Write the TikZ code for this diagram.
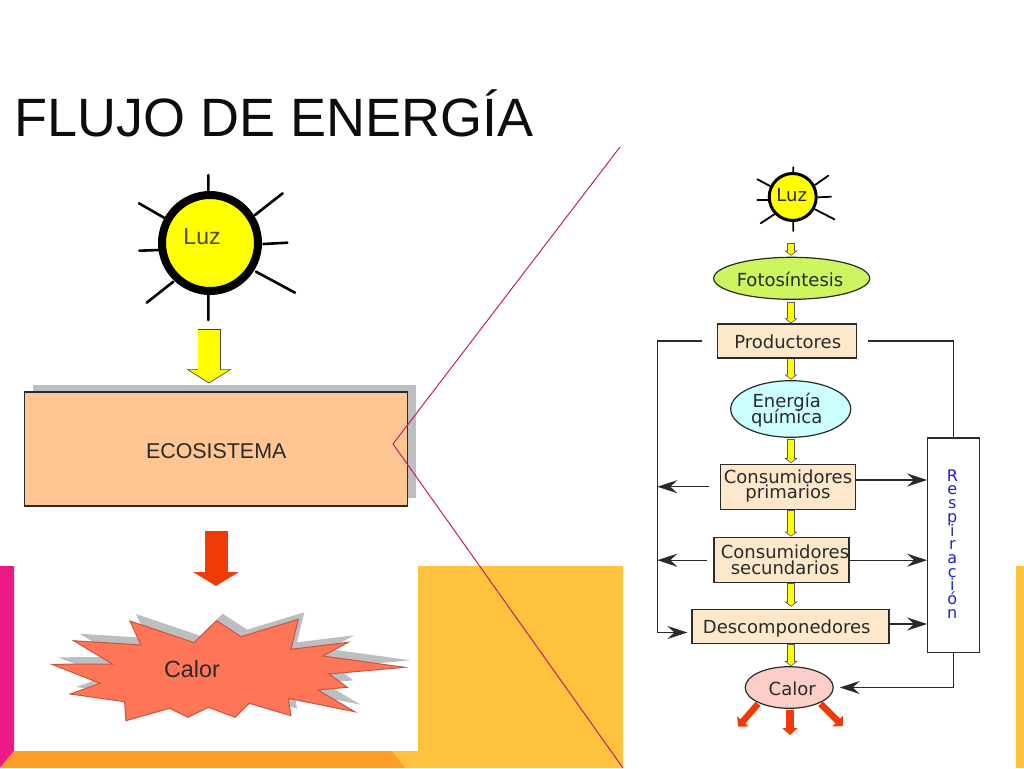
\documentclass[tikz,border=0pt]{standalone}
\usepackage{fontspec}
\setmainfont{Liberation Sans}
\newfontfamily\chartfont{DejaVu Sans}
\usetikzlibrary{arrows.meta,shapes.geometric,calc}
\definecolor{pureyellow}{RGB}{255,255,0}
\definecolor{slideyellow}{HTML}{FFC23C}
\definecolor{slidepink}{HTML}{EC1A84}
\definecolor{slideorange}{HTML}{FF9E28}
\definecolor{slideline}{HTML}{C4206A}
\definecolor{boxpeach}{HTML}{FFC593}
\definecolor{cream}{HTML}{FDE8CB}
\definecolor{leafgreen}{HTML}{CCF55F}
\definecolor{paleblue}{HTML}{CCFFFF}
\definecolor{palered}{HTML}{FBCFC8}
\definecolor{burstred}{HTML}{FF7558}
\definecolor{burstedge}{HTML}{C8553A}
\definecolor{shadowgray}{HTML}{BCBEC2}
\definecolor{arrowred}{HTML}{F03A08}
\definecolor{inkdark}{HTML}{2A2A2A}
\definecolor{respblue}{HTML}{2222CC}
% text placed at a given offset from the node centre (dx, dy upward, baseline based)
\newcommand\tx[3]{\raisebox{#2pt}[0pt][0pt]{\makebox[0pt]{\kern#1pt\kern#1pt #3}}}
\newcommand\twolines[2]{\begin{tabular}{@{}c@{}}\smash{#1}\\\smash{#2}\end{tabular}}
% from, to, shorten start, shorten end, fill, edge, shaft width, head length, head width
\newcommand\fatconn[9]{%
  \pgfmathsetmacro\fb{0.8}%
  \pgfmathsetmacro\frec{\fb*sqrt(#8*#8+#9*#9/4)/(#9/2)}%
  \pgfmathsetmacro\fl{#8-\fb-\frec}%
  \pgfmathsetmacro\fh{#9*\fl/#8}%
  \pgfmathsetmacro\fw{#7-2*\fb}%
  \pgfmathsetmacro\fsa{#3+\fb}%
  \pgfmathsetmacro\fsb{#4+\frec}%
  \draw[draw=#6,fill=none,line width=#7pt,shorten <=#3pt,shorten >=#4pt,-{Triangle[length=#8pt,width=#9pt]}] (#1) -- (#2);
  \draw[draw=#5,fill=none,line width=\fw pt,shorten <=\fsa pt,shorten >=\fsb pt,-{Triangle[length=\fl pt,width=\fh pt]}] (#1) -- (#2);
}
\tikzset{
  every node/.append style={inner sep=0pt},
  ray/.style={draw=black,line cap=round},
  sunbig/.style={circle,draw=black,line width=8pt,fill=pureyellow,minimum size=96pt},
  sunsmall/.style={circle,draw=black,line width=3pt,fill=pureyellow,minimum size=47pt},
  chartbox/.style={rectangle,draw=inkdark,line width=1.2pt,fill=cream,font=\chartfont\fontsize{18}{15.5}\selectfont,text=inkdark},
  chartoval/.style={ellipse,draw=inkdark,line width=1.2pt,font=\chartfont\fontsize{18}{16.5}\selectfont,text=inkdark},
  flow/.style={draw=inkdark,line width=1.2pt},
  flowtip/.style={flow,-{Stealth[length=20pt,width=13pt,inset=7pt]}},
}
\begin{document}
\begin{tikzpicture}[x=1pt,y=-1pt]
\useasboundingbox (0,0) rectangle (1024,768);
\fill[white] (0,0) rectangle (1024,768);
% slide decoration
\fill[slideyellow] (392,751) -- (418,751) -- (418,566) -- (623,566) -- (623,768) -- (405,768) -- cycle;
\fill[slideyellow] (1016,566) rectangle (1024,768);
\fill[slidepink] (0,566) -- (14,566) -- (14,751) -- (0,768) -- cycle;
\fill[slideorange] (14,751) -- (392,751) -- (405,768) -- (0,768) -- cycle;
% title
\node[anchor=base west,font=\fontsize{54}{60}\selectfont,text=black!95] (title) at (14.5,136) {FLUJO DE ENERGÍA};
% left diagram
\draw[ray,line width=2.6pt] (208.3,175) -- (208.3,192) (255,215) -- (282.7,193.3) (263.3,244) -- (287.3,242.7) (256,271.7) -- (295,292.7) (208.3,295) -- (208.3,320) (173.3,281.7) -- (146.7,302.7) (159.3,250) -- (139.3,250.7) (165,218.3) -- (139,203.3);
\node[sunbig,font=\fontsize{23}{26}\selectfont,text=inkdark!85!yellow] (sunL) at (210,243) {\tx{-8}{-1}{Luz}};
\fill[shadowgray] (33,385) rectangle (416,498);
\node[rectangle,draw=inkdark,line width=1.2pt,fill=boxpeach,minimum width=383pt,minimum height=114pt,font=\fontsize{21.4}{24}\selectfont,text=inkdark] (eco) at (216.2,449) {\tx{0}{-9}{ECOSISTEMA}};
\coordinate (sunLx) at (209,0);
\fatconn{sunL.south -| sunLx}{eco.north -| sunLx}{34}{8}{pureyellow}{black!65!olive}{23}{14}{44}
\coordinate (heatS) at (216,531);
\coordinate (heatE) at (216,586);
\fatconn{heatS}{heatE}{0}{0}{arrowred}{arrowred}{23}{14}{45}
\fill[shadowgray,shift={(6,-7)}] (51.9,664.3) -- (112.4,664) -- (73.6,640.7) -- (141,645) -- (130,621) -- (194.1,642.7) -- (216.6,620.7) -- (241.1,636.7) -- (298.3,619.3) -- (291,649.3) -- (348.2,642.3) -- (322.8,656) -- (404.6,667.3) -- (329,674) -- (347.4,687.3) -- (318,690) -- (354.7,711.7) -- (288.1,698.3) -- (291,715.7) -- (249.3,703.3) -- (235,717.3) -- (208.4,707.3) -- (188,717.3) -- (169.6,708.3) -- (125.9,720.7) -- (124.6,701.7) -- (70.3,694) -- (100.1,683.3) -- cycle;
\draw[fill=burstred,draw=burstedge,line width=1pt,line join=miter] (51.9,664.3) -- (112.4,664) -- (73.6,640.7) -- (141,645) -- (130,621) -- (194.1,642.7) -- (216.6,620.7) -- (241.1,636.7) -- (298.3,619.3) -- (291,649.3) -- (348.2,642.3) -- (322.8,656) -- (404.6,667.3) -- (329,674) -- (347.4,687.3) -- (318,690) -- (354.7,711.7) -- (288.1,698.3) -- (291,715.7) -- (249.3,703.3) -- (235,717.3) -- (208.4,707.3) -- (188,717.3) -- (169.6,708.3) -- (125.9,720.7) -- (124.6,701.7) -- (70.3,694) -- (100.1,683.3) -- cycle;
\node[font=\fontsize{23.4}{26}\selectfont,text=inkdark] (calorL) at (192,670) {\tx{0}{-7}{Calor}};
% right diagram: sun
\draw[ray,line width=1.8pt] (793.3,167.3) -- (793.3,175) (815,185) -- (828.3,175.7) (818.3,197.3) -- (831,196.7) (815,209.3) -- (834.3,219.3) (793.3,220) -- (793.3,231) (774.3,214.3) -- (760.7,223.3) (768.3,200) -- (757.3,200) (770,186) -- (757.3,179.3);
\node[sunsmall,font=\chartfont\fontsize{18}{20}\selectfont,text=inkdark] (sunR) at (792.7,197) {\tx{-1}{-4.5}{Luz}};
% right diagram: chart
\node[chartoval,fill=leafgreen,minimum width=156pt,minimum height=42pt] (foto) at (791.7,278.3) {\tx{-1.7}{-8}{Fotosíntesis}};
\node[chartbox,minimum width=139pt,minimum height=34pt] (prod) at (787.2,341) {\tx{0.5}{-7.5}{Productores}};
\node[chartoval,fill=paleblue,minimum width=120pt,minimum height=56.6pt] (ener) at (790.7,409) {\tx{-4}{-7.5}{\twolines{Energía}{química}}};
\node[chartbox,minimum width=135pt,minimum height=45pt] (cons1) at (787.8,486.7) {\tx{0.2}{-5.5}{\twolines{Consumidores}{primarios}}};
\node[chartbox,minimum width=135pt,minimum height=45pt] (cons2) at (781.4,560.2) {\tx{3.6}{-7.5}{\twolines{Consumidores}{secundarios}}};
\node[chartbox,minimum width=197pt,minimum height=34.4pt] (desc) at (790.5,626.5) {\tx{-3.8}{-7}{Descomponedores}};
\node[chartoval,fill=palered,minimum width=88pt,minimum height=41.6pt] (calorR) at (789.2,687.5) {\tx{3}{-7.5}{Calor}};
\node[rectangle,draw=inkdark,line width=1.2pt,fill=white,minimum width=52pt,minimum height=214.7pt,font=\chartfont\fontsize{16}{13.7}\selectfont,text=respblue] (resp) at (953.7,545.3) {\tx{-1.4}{-6}{\begin{tabular}{@{}c@{}}\smash{R}\\\smash{e}\\\smash{s}\\\smash{p}\\\smash{i}\\\smash{r}\\\smash{a}\\\smash{c}\\\smash{i}\\\smash{ó}\\\smash{n}\end{tabular}}};
% yellow flow arrows
\coordinate (flowx) at (791,0);
\fatconn{sunR.south -| flowx}{foto.north -| flowx}{21}{1}{pureyellow}{black!65}{8}{5}{13}
\fatconn{foto.south -| flowx}{prod.north -| flowx}{2}{0}{pureyellow}{black!65}{8}{5}{13}
\fatconn{prod.south -| flowx}{ener.north -| flowx}{0}{0.5}{pureyellow}{black!65}{8}{5}{13}
\fatconn{ener.south -| flowx}{cons1.north -| flowx}{1}{0.5}{pureyellow}{black!65}{8}{5}{13}
\fatconn{cons1.south -| flowx}{cons2.north -| flowx}{0}{0.5}{pureyellow}{black!65}{8}{5}{13}
\fatconn{cons2.south -| flowx}{desc.north -| flowx}{0}{2}{pureyellow}{black!65}{8}{5}{13}
\fatconn{desc.south -| flowx}{calorR.north -| flowx}{0}{0}{pureyellow}{black!65}{8}{5}{13}
% red heat arrows
\coordinate (heatL) at (738.3,726.7);
\coordinate (heatM) at (790,735);
\coordinate (heatR) at (842.7,726);
\fatconn{calorR.-153}{heatL}{1}{0}{arrowred}{arrowred}{6.5}{7}{15}
\fatconn{calorR.south -| heatM}{heatM}{1}{0}{arrowred}{arrowred}{7.5}{7}{15}
\fatconn{calorR.-27}{heatR}{1}{0}{arrowred}{arrowred}{6.5}{7}{15}
% feedback lines
\coordinate (leftx) at (657.3,0);
\coordinate (descin) at ($(desc.west)+(0,6)$);
\coordinate (cons1out) at ($(cons1.east)+(0,-6.7)$);
\coordinate (descout) at ($(desc.east)+(0,-2.5)$);
\draw[flow,shorten <=15pt] (prod.west) -- (leftx |- prod.west) -- (leftx |- descin);
\draw[flowtip,shorten >=4pt] (leftx |- descin) -- (descin);
\draw[flowtip,shorten <=11pt] (cons1.west) -- (leftx |- cons1.west);
\draw[flowtip,shorten <=6pt] (cons2.west) -- (leftx |- cons2.west);
\draw[flow,shorten <=11pt] (prod.east) -- (resp.north |- prod.east) -- (resp.north);
\draw[flowtip] (cons1out) -- (cons1out -| resp.west);
\draw[flowtip] (cons2.east) -- (cons2.east -| resp.west);
\draw[flowtip] (descout) -- (descout -| resp.west);
\draw[flow] (resp.south) -- (resp.south |- calorR.east);
\draw[flowtip,shorten >=6pt] (resp.south |- calorR.east) -- (calorR.east);
% slide accent line
\coordinate (accentA) at (620,147);
\coordinate (accentB) at (393,444);
\coordinate (accentC) at (623,768);
\draw[slideline,line width=1pt,line join=miter] (accentA) -- (accentB) -- (accentC);
\end{tikzpicture}
\end{document}
